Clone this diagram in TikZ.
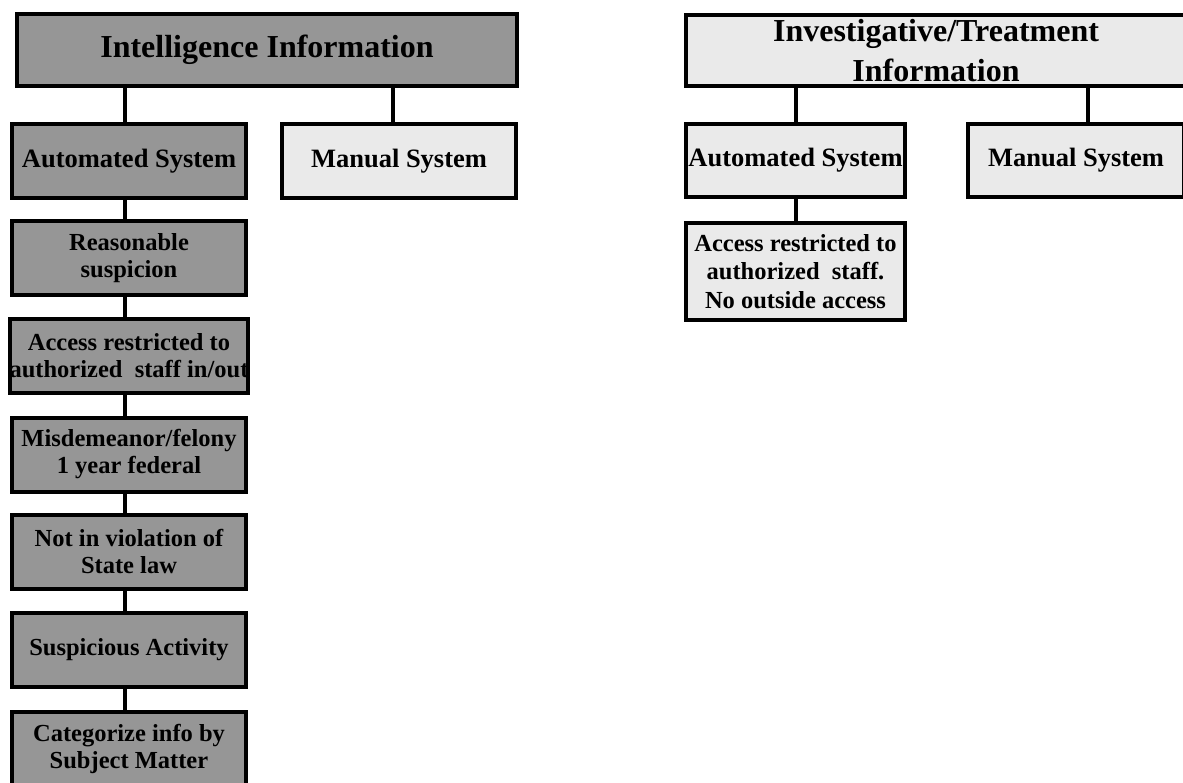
\documentclass[tikz,border=0pt]{standalone}
\usepackage{fontspec}
\setmainfont{Liberation Serif}
\definecolor{darkbox}{RGB}{150,150,150}
\definecolor{lightbox}{RGB}{234,234,234}
\begin{document}
\begin{tikzpicture}[x=1pt,y=-1pt,
  box/.style={draw=black, line width=4pt, inner sep=0pt, align=center,
    font=\bfseries\fontsize{24.5}{27}\selectfont},
  dark/.style={box, fill=darkbox},
  light/.style={box, fill=lightbox},
  titlefont/.style={font=\bfseries\fontsize{32}{40}\selectfont},
  colbox/.style={minimum width=234pt, minimum height=74pt},
  link/.style={line width=4pt}]
\clip (0,0) rectangle (1183,783);
\useasboundingbox (0,0) rectangle (1183,783);
\fill[white] (0,0) rectangle (1183,783);

% left tree
\node[dark, titlefont, minimum width=500pt, minimum height=72pt] (intel) at (267,50) {Intelligence Information};
\node[dark, colbox, font=\bfseries\fontsize{26.5}{30}\selectfont] (autoL) at (129,161) {Automated System};
\node[light, colbox, font=\bfseries\fontsize{26.5}{30}\selectfont] (manL) at (399,161) {Manual System};
\node[dark, colbox] (reas) at (129,258.5) {Reasonable\\suspicion};
\node[dark, colbox] (acc) at (129,356) {Access restricted to\\authorized~~staff in/out};
\node[dark, colbox] (mis) at (129,454.5) {Misdemeanor/felony\\1 year federal};
\node[dark, colbox] (notv) at (129,551.5) {Not in violation of\\State law};
\node[dark, colbox] (susp) at (129,650) {Suspicious Activity};
\node[dark, colbox] (cat) at (129,749) {Categorize info by\\Subject Matter};

% right tree
\node[light, titlefont, minimum width=500pt, minimum height=71pt] (inv) at (936,50.5) {Investigative/Treatment\\Information};
\node[light, minimum width=219pt, minimum height=73pt, font=\bfseries\fontsize{26.5}{30}\selectfont] (autoR) at (795.5,160.5) {Automated System};
\node[light, minimum width=219pt, minimum height=97pt, font=\bfseries\fontsize{24.5}{28.5}\selectfont] (accR) at (795.5,271.5) {Access restricted to\\authorized~~staff.\\No outside access};
\node[light, minimum width=216pt, minimum height=73pt, font=\bfseries\fontsize{26.5}{30}\selectfont] (manR) at (1076,160.5) {Manual System};

% connectors
\draw[link] ([xshift=-4.5pt]autoL.north) -- ([xshift=-4.5pt]autoL.north |- intel.south);
\draw[link] ([xshift=-6pt]manL.north) -- ([xshift=-6pt]manL.north |- intel.south);
\draw[link] ([xshift=-4.5pt]autoL.south) -- ([xshift=-4.5pt]reas.north);
\draw[link] ([xshift=-4.5pt]reas.south) -- ([xshift=-4.5pt]acc.north);
\draw[link] ([xshift=-4.5pt]acc.south) -- ([xshift=-4.5pt]mis.north);
\draw[link] ([xshift=-4.5pt]mis.south) -- ([xshift=-4.5pt]notv.north);
\draw[link] ([xshift=-4.5pt]notv.south) -- ([xshift=-4.5pt]susp.north);
\draw[link] ([xshift=-4.5pt]susp.south) -- ([xshift=-4.5pt]cat.north);
\draw[link] (autoR.north) -- (autoR.north |- inv.south);
\draw[link] (autoR.south) -- (accR.north);
\draw[link] ([xshift=12pt]manR.north) -- ([xshift=12pt]manR.north |- inv.south);
\end{tikzpicture}
\end{document}
